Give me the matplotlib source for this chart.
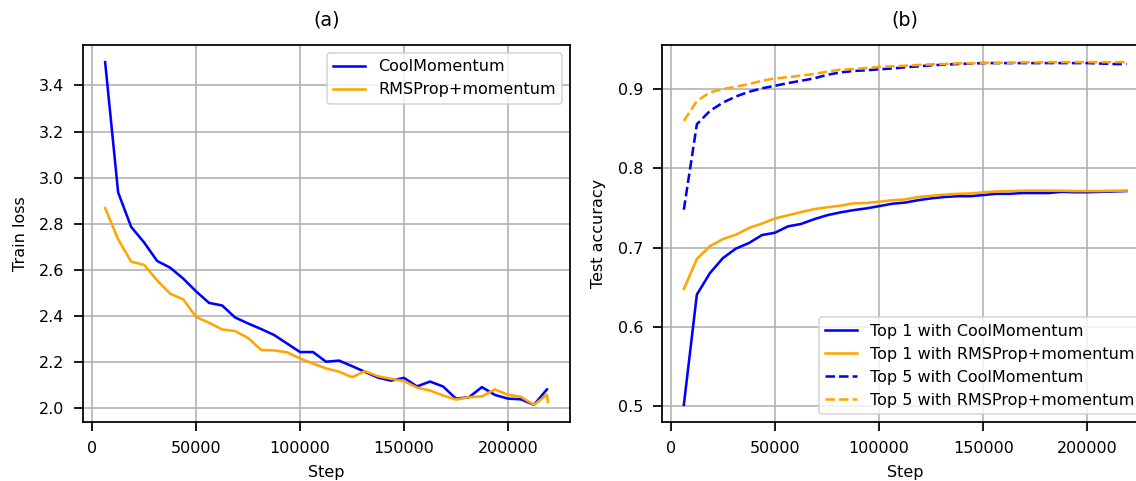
import matplotlib
matplotlib.use("Agg")
import matplotlib.pyplot as plt

# ---------------- data ----------------
steps = [6250, 12500, 18750, 25000, 31250, 37500, 43750, 50000, 56250, 62500,
         68750, 75000, 81250, 87500, 93750, 100000, 106250, 112500, 118750, 125000,
         131250, 137500, 143750, 150000, 156250, 162500, 168750, 175000, 181250, 187500,
         193750, 200000, 206250, 212500, 218750]

loss_cool = [3.501, 2.936, 2.787, 2.719, 2.639, 2.610, 2.563, 2.507, 2.457, 2.446,
             2.394, 2.368, 2.344, 2.318, 2.281, 2.244, 2.244, 2.202, 2.207, 2.183,
             2.158, 2.133, 2.120, 2.132, 2.095, 2.116, 2.095, 2.042, 2.048, 2.092,
             2.058, 2.042, 2.039, 2.015, 2.082]

steps_rms_loss = steps + [219200]
loss_rms = [2.868, 2.733, 2.636, 2.622, 2.555, 2.497, 2.473, 2.396, 2.371, 2.342,
            2.335, 2.305, 2.253, 2.251, 2.243, 2.216, 2.194, 2.173, 2.159, 2.135,
            2.161, 2.139, 2.128, 2.118, 2.090, 2.077, 2.056, 2.038, 2.048, 2.052,
            2.082, 2.059, 2.050, 2.015, 2.059, 2.027]

top1_cool = [0.502, 0.641, 0.668, 0.687, 0.699, 0.706, 0.716, 0.719, 0.727, 0.730,
             0.736, 0.741, 0.7445, 0.7474, 0.7496, 0.7525, 0.7555, 0.757, 0.760, 0.7623,
             0.764, 0.765, 0.765, 0.7665, 0.768, 0.768, 0.769, 0.769, 0.769, 0.7705,
             0.770, 0.770, 0.7705, 0.771, 0.7715]

top1_rms = [0.648, 0.686, 0.702, 0.711, 0.7165, 0.725, 0.7305, 0.737, 0.741, 0.745,
            0.7487, 0.751, 0.753, 0.756, 0.7565, 0.758, 0.760, 0.761, 0.764, 0.7655,
            0.767, 0.768, 0.7685, 0.770, 0.771, 0.7715, 0.772, 0.772, 0.772, 0.772,
            0.7715, 0.7715, 0.7715, 0.772, 0.772]

top5_cool = [0.748, 0.8557, 0.8725, 0.883, 0.8907, 0.8966, 0.901, 0.9042, 0.9076, 0.9105,
             0.9135, 0.918, 0.921, 0.9228, 0.9237, 0.925, 0.926, 0.9275, 0.9287, 0.930,
             0.9308, 0.9316, 0.9322, 0.9328, 0.9328, 0.9328, 0.9328, 0.9328, 0.9328, 0.9328,
             0.9328, 0.9328, 0.9322, 0.9316, 0.9316]

top5_rms = [0.860, 0.885, 0.8958, 0.900, 0.903, 0.9063, 0.9105, 0.9135, 0.915, 0.917,
            0.919, 0.922, 0.9245, 0.9253, 0.9266, 0.928, 0.9287, 0.9295, 0.9304, 0.9312,
            0.9316, 0.9325, 0.9325, 0.933, 0.933, 0.9333, 0.9337, 0.9337, 0.934, 0.934,
            0.934, 0.934, 0.934, 0.934, 0.934]

# ---------------- style ----------------
plt.rcParams.update({
    "axes.linewidth": 1.1,
    "xtick.major.size": 5.8,
    "ytick.major.size": 5.4,
    "xtick.major.width": 1.1,
    "ytick.major.width": 1.1,
    "xtick.major.pad": 6.0,
    "ytick.major.pad": 6.3,
    "grid.linewidth": 1.0,
    "lines.linewidth": 1.6,
})

# ---------------- figure ----------------
W, H = 1136, 481
DPI = 115
fig = plt.figure(figsize=(W / DPI, H / DPI), dpi=DPI)

axw = 487 / W
axh = 377 / H
axb = (H - 422) / H
ax1 = fig.add_axes([83 / W, axb, axw, axh])
ax2 = fig.add_axes([661.7 / W, axb, axw, axh])

ax1.plot(steps, loss_cool, color="blue", label="CoolMomentum")
ax1.plot(steps_rms_loss, loss_rms, color="orange", label="RMSProp+momentum")
ax1.set_title("(a)", pad=12)
ax1.set_xlabel("Step", labelpad=6)
ax1.set_ylabel("Train loss", labelpad=7)
ax1.grid(True)
ax1.legend(loc="upper right")

ax2.plot(steps, top1_cool, color="blue", label="Top 1 with CoolMomentum")
ax2.plot(steps, top1_rms, color="orange", label="Top 1 with RMSProp+momentum")
ax2.plot(steps, top5_cool, color="blue", linestyle="--", label="Top 5 with CoolMomentum")
ax2.plot(steps, top5_rms, color="orange", linestyle="--", label="Top 5 with RMSProp+momentum")
ax2.set_title("(b)", pad=12)
ax2.set_xlabel("Step", labelpad=6)
ax2.set_ylabel("Test accuracy", labelpad=7)
ax2.grid(True)
ax2.legend(loc="lower right")

fig.savefig("out.png", dpi=DPI)
